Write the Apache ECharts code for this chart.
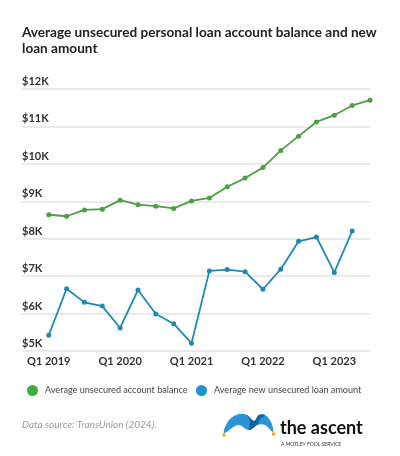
<!DOCTYPE html>
<html>
<head>
<meta charset="utf-8">
<script src="https://cdn.jsdelivr.net/npm/echarts@6/dist/echarts.min.js"></script>
<style>
html,body{margin:0;padding:0;background:#fff;}
#chart{width:400px;height:456px;}
</style>
</head>
<body>
<div id="chart"></div>
<script>
var quarters = ['Q1 2019','Q2 2019','Q3 2019','Q4 2019','Q1 2020','Q2 2020','Q3 2020','Q4 2020','Q1 2021','Q2 2021','Q3 2021','Q4 2021','Q1 2022','Q2 2022','Q3 2022','Q4 2022','Q1 2023','Q2 2023','Q3 2023'];
var tickLabels = ['Q1 2019','Q1 2020','Q1 2021','Q1 2022','Q1 2023'];
var accountBalance = [8640,8600,8770,8790,9030,8910,8870,8810,9010,9090,9390,9620,9900,10360,10740,11120,11300,11560,11700];
var newLoanAmount = [5420,6665,6300,6200,5615,6630,5990,5730,5205,7140,7175,7120,6650,7185,7930,8045,7100,8205];
var seriesNames = ['Average unsecured account balance','Average new unsecured loan amount'];

var chart = echarts.init(document.getElementById('chart'));
function pairs(arr){ return arr.map(function(v,i){ return [i, v]; }); }
var tickIdx = tickLabels.map(function(t){ return quarters.indexOf(t); });
var FONT = 'Lato';
var legendBase = {
  orient: 'horizontal', top: 385, padding: 0, itemWidth: 11, itemHeight: 11,
  icon: 'circle',
  textStyle: { fontFamily: FONT, fontSize: 9.1, color: '#444', padding: [0,0,0,2] }
};

chart.setOption({
  animation: false,
  title: {
    text: 'Average unsecured personal loan account balance and new\nloan amount',
    left: 22, top: 25, padding: 0,
    textStyle: { fontFamily: FONT, fontSize: 13.6, fontWeight: 'bold', color: '#222', lineHeight: 16 }
  },
  grid: { left: 22, right: 30, top: 89, bottom: 105, containLabel: false },
  xAxis: {
    type: 'value', min: -1.5, max: 18,
    axisLine: { show: false }, axisTick: { show: false }, splitLine: { show: false },
    axisLabel: {
      customValues: tickIdx,
      formatter: function(v){ return quarters[Math.round(v)] || ''; },
      fontFamily: FONT, fontSize: 11, fontWeight: 'bold', color: '#333', margin: 5
    }
  },
  yAxis: {
    type: 'value', min: 5000, max: 12000, interval: 1000,
    axisLine: { show: false }, axisTick: { show: false },
    splitLine: { lineStyle: { color: '#e3e3e3', width: 1.5 } },
    axisLabel: {
      inside: true, margin: 0, verticalAlign: 'bottom', padding: [0,0,2,0],
      formatter: function(v){ return '$' + (v/1000) + 'K'; },
      fontFamily: FONT, fontSize: 11, fontWeight: 'bold', color: '#333'
    }
  },
  legend: [
    Object.assign({}, legendBase, { left: 27,
      data: [{ name: seriesNames[0], itemStyle: { color: '#3fae3a' } }] }),
    Object.assign({}, legendBase, { left: 196,
      data: [{ name: seriesNames[1], itemStyle: { color: '#1b94cf' } }] })
  ],
  series: [
    { name: seriesNames[0], type: 'line', data: pairs(accountBalance),
      symbol: 'circle', symbolSize: 5, color: '#4c9f42',
      lineStyle: { width: 1.8, color: '#4c9f42' }, itemStyle: { color: '#4c9f42' } },
    { name: seriesNames[1], type: 'line', data: pairs(newLoanAmount),
      symbol: 'circle', symbolSize: 5, color: '#1f89b6',
      lineStyle: { width: 1.8, color: '#1f89b6' }, itemStyle: { color: '#1f89b6' } }
  ],
  graphic: [
    { type: 'text', left: 22, top: 420,
      style: { text: 'Data source: TransUnion (2024).', font: 'italic 10px Lato', fill: '#9a9a9a' } },
    { type: 'polygon', shape: { smooth: 0.35, points: [[224,433],[229,420],[239,414],[247,415],[254,421],[259,415],[265,415],[271,422],[273,432],[265,425],[257,425],[249,430],[238,425]] },
      style: { fill: '#2a95d6' } },
    { type: 'polygon', shape: { smooth: 0.3, points: [[247,415],[254,421],[259,415],[265,415],[260,419],[257,425],[249,430],[250,421]] },
      style: { fill: '#16609e' } },
    { type: 'circle', shape: { cx: 224, cy: 435, r: 1.8 }, style: { fill: '#f2a900' } },
    { type: 'circle', shape: { cx: 273.5, cy: 434, r: 1.8 }, style: { fill: '#f2a900' } },
    { type: 'text', left: 280, top: 419,
      style: { text: 'the ascent', font: 'bold 18px Lato', fill: '#111' } },
    { type: 'text', left: 281, top: 442,
      style: { text: 'A MOTLEY FOOL SERVICE', font: '5px Lato', fill: '#333' } }
  ]
});
</script>
</body>
</html>
